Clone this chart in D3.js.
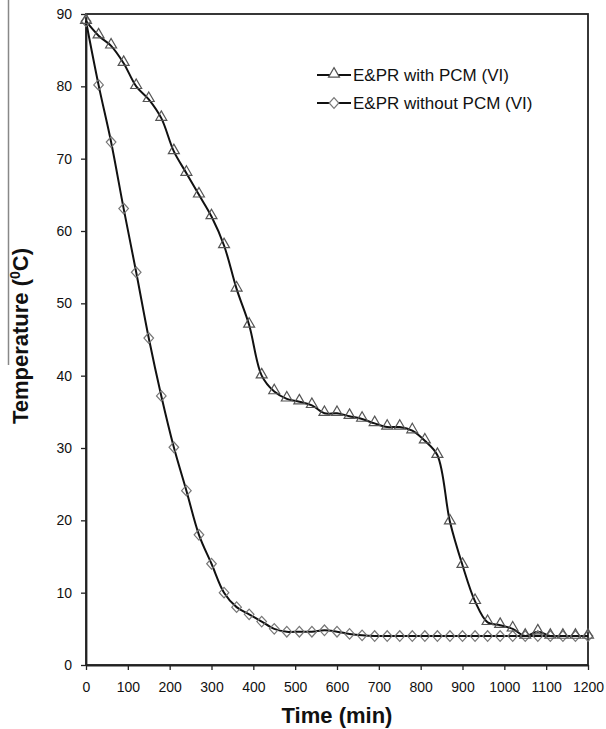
<html>
<head>
<meta charset="utf-8">
<script src="https://d3js.org/d3.v7.min.js"></script>
<style>
  body { margin: 0; background: #fff; }
  text { font-family: "Liberation Sans", Arial, sans-serif; }
</style>
</head>
<body>
<script>
// time in minutes, every 30 min
var times = d3.range(0, 1201, 30);
var withPCM = [89, 87, 85.6, 83.2, 80, 78.2, 75.6, 71, 68, 65, 62, 58, 52, 47,
               40, 37.8, 36.8, 36.4, 35.9, 34.8, 34.8, 34.4, 34, 33.4, 32.9, 32.9,
               32.4, 31, 29, 19.8, 13.8, 8.8, 5.9, 5.5, 5, 4, 4.6, 4, 4, 4, 4];
var withoutPCM = [89, 80.2, 72.3, 63.1, 54.3, 45.2, 37.2, 30.1, 24.1, 18, 14, 10,
                  8, 7, 6, 5, 4.6, 4.6, 4.6, 4.8, 4.6, 4.3, 4.1, 4, 4, 4, 4, 4,
                  4, 4, 4, 4, 4, 4, 4, 4, 4, 4, 4, 4, 4];
var xTicks = d3.range(0, 1201, 100);
var yTicks = d3.range(0, 91, 10);
var seriesNames = ["E&PR with PCM (VI)", "E&PR without PCM (VI)"];

var width = 606, height = 729;
var mLeft = 86, mTop = 14, mRight = 588, mBottom = 665;

var svg = d3.select("body").append("svg")
  .attr("width", width).attr("height", height);

var x = d3.scaleLinear().domain([0, 1200]).range([mLeft, mRight]);
var y = d3.scaleLinear().domain([0, 90]).range([mBottom, mTop]);

// stray page line at far left
svg.append("line").attr("x1", 8.5).attr("x2", 8.5).attr("y1", 0).attr("y2", 365)
  .attr("stroke", "#888").attr("stroke-width", 1.5);

// frame
svg.append("rect").attr("x", mLeft).attr("y", mTop)
  .attr("width", mRight - mLeft).attr("height", mBottom - mTop)
  .attr("fill", "none").attr("stroke", "#222").attr("stroke-width", 1.8);

var xAxis = svg.append("g").attr("transform", "translate(0," + mBottom + ")")
  .call(d3.axisBottom(x).tickValues(xTicks).tickFormat(d3.format("d"))
    .tickSize(5).tickPadding(12).tickSizeOuter(0));
var yAxis = svg.append("g").attr("transform", "translate(" + mLeft + ",0)")
  .call(d3.axisLeft(y).tickValues(yTicks).tickSize(5).tickPadding(9).tickSizeOuter(0));
[xAxis, yAxis].forEach(function(a) {
  a.select(".domain").attr("stroke", "#222").attr("stroke-width", 1.8);
  a.selectAll(".tick line").attr("stroke", "#222").attr("stroke-width", 1.3);
  a.selectAll("text").attr("font-size", 14).attr("fill", "#111")
    .style("font-family", "Liberation Sans, Arial, sans-serif");
});

var line = d3.line()
  .x(function(d) { return x(d[0]); })
  .y(function(d) { return y(d[1]); })
  .curve(d3.curveCatmullRom.alpha(0.5));

var dataA = times.map(function(t, i) { return [t, withPCM[i]]; });
var dataB = times.map(function(t, i) { return [t, withoutPCM[i]]; });

var tri = d3.symbol().type(d3.symbolTriangle).size(52);
var dia = function(cx, cy) {
  return "M" + cx + "," + (cy - 5.3) + "L" + (cx + 4.8) + "," + cy + "L" + cx + "," + (cy + 5.3) +
         "L" + (cx - 4.8) + "," + cy + "Z";
};

svg.append("path").datum(dataB).attr("d", line)
  .attr("fill", "none").attr("stroke", "#111").attr("stroke-width", 2);
svg.append("path").datum(dataA).attr("d", line)
  .attr("fill", "none").attr("stroke", "#111").attr("stroke-width", 2);

svg.append("g").selectAll("path").data(dataB).join("path")
  .attr("d", function(d) { return dia(x(d[0]), y(d[1])); })
  .attr("fill", "none").attr("stroke", "#777").attr("stroke-width", 1.2);
svg.append("g").selectAll("path").data(dataA).join("path")
  .attr("d", tri)
  .attr("transform", function(d) { return "translate(" + x(d[0]) + "," + (y(d[1]) - 1) + ")"; })
  .attr("fill", "none").attr("stroke", "#555").attr("stroke-width", 1.2);

// legend
var lg = svg.append("g");
[0, 1].forEach(function(i) {
  var ly = 75 + i * 28;
  lg.append("line").attr("x1", 317).attr("x2", 351).attr("y1", ly).attr("y2", ly)
    .attr("stroke", "#111").attr("stroke-width", 1.8);
  if (i === 0) {
    lg.append("path").attr("d", tri).attr("transform", "translate(334," + (ly - 1) + ")")
      .attr("fill", "#fff").attr("stroke", "#555").attr("stroke-width", 1.2);
  } else {
    lg.append("path").attr("d", dia(334, ly)).attr("fill", "#fff")
      .attr("stroke", "#777").attr("stroke-width", 1.2);
  }
  lg.append("text").attr("x", 353).attr("y", ly + 6)
    .attr("font-size", 17).attr("fill", "#111").text(seriesNames[i]);
});

// axis titles
svg.append("text").attr("x", (mLeft + mRight) / 2).attr("y", 723)
  .attr("text-anchor", "middle").attr("font-size", 22).attr("font-weight", "bold")
  .attr("fill", "#111").text("Time (min)");

var yl = svg.append("text")
  .attr("transform", "translate(28,336) rotate(-90)")
  .attr("text-anchor", "middle").attr("font-size", 22).attr("font-weight", "bold")
  .attr("fill", "#111");
yl.append("tspan").text("Temperature (");
yl.append("tspan").attr("font-size", 14).attr("dy", -8).text("0");
yl.append("tspan").attr("dy", 8).text("C)");
</script>
</body>
</html>
